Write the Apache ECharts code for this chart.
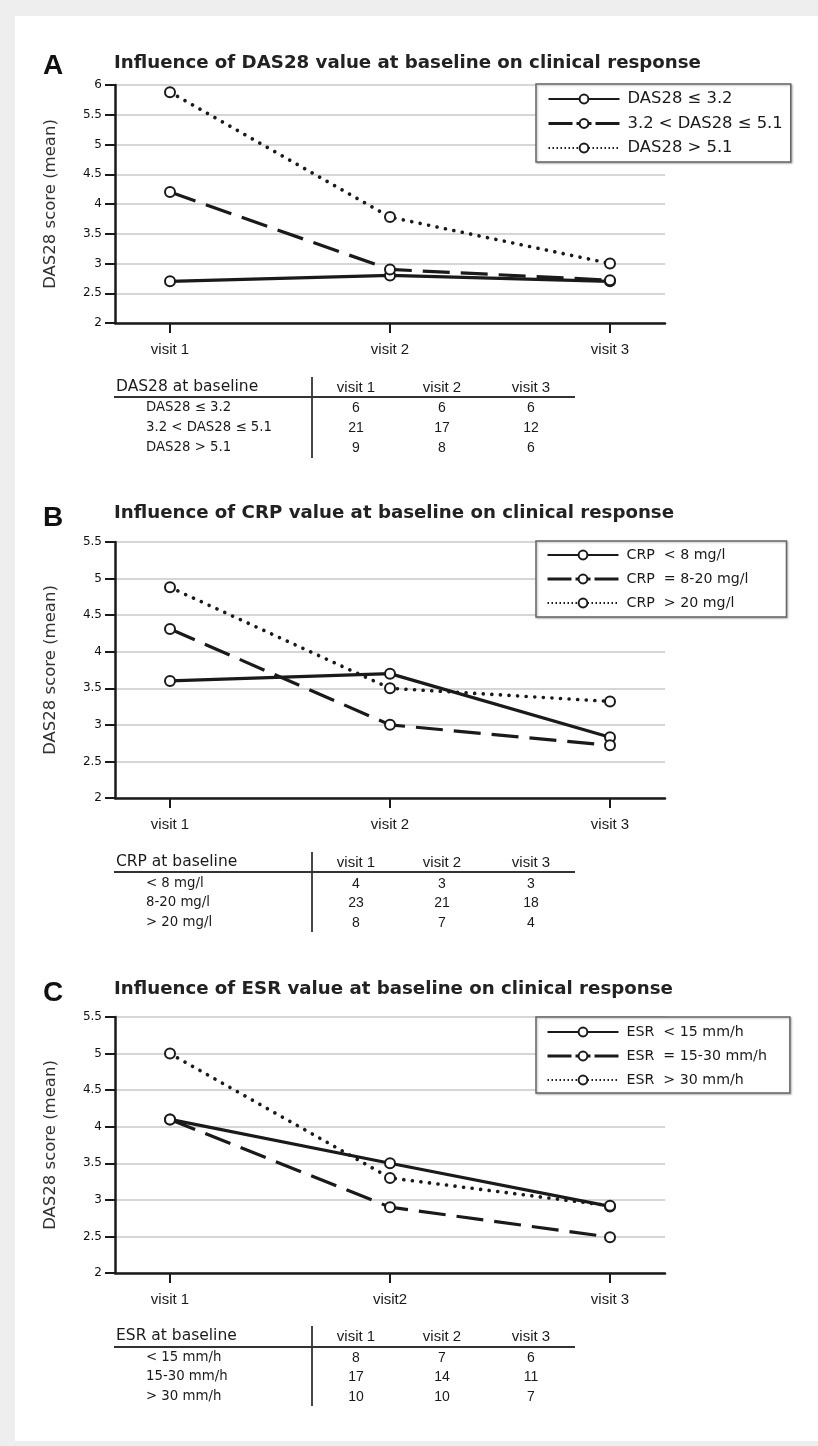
<!DOCTYPE html>
<html><head><meta charset="utf-8">
<script src="https://cdn.jsdelivr.net/npm/echarts@6/dist/echarts.min.js"></script>
<style>html,body{margin:0;padding:0;background:#fff}#c{width:818px;height:1446px}</style>
</head><body><div id="c"></div>
<script>
// ---------- data ----------
const visitsAB = ['visit 1', 'visit 2', 'visit 3'];
const visitsC = ['visit 1', 'visit2', 'visit 3'];
const tableCols = ['visit 1', 'visit 2', 'visit 3'];
const yName = 'DAS28 score (mean)';
const letters = ['A', 'B', 'C'];
const titles = [
  'Influence of DAS28 value at baseline on clinical response',
  'Influence of CRP value at baseline on clinical response',
  'Influence of ESR value at baseline on clinical response'
];
const yMaxes = [6, 5.5, 5.5];

const namesA = ['DAS28 \u2264 3.2', '3.2 < DAS28 \u2264 5.1', 'DAS28 > 5.1'];
const lowA = [2.7, 2.8, 2.7];
const midA = [4.2, 2.9, 2.72];
const highA = [5.88, 3.78, 3.0];
const tableTitleA = 'DAS28 at baseline';
const rowLabelsA = ['DAS28 \u2264 3.2', '3.2 < DAS28 \u2264 5.1', 'DAS28 > 5.1'];
const countsA = [[6, 6, 6], [21, 17, 12], [9, 8, 6]];

const namesB = ['CRP  < 8 mg/l', 'CRP  = 8-20 mg/l', 'CRP  > 20 mg/l'];
const lowB = [3.6, 3.7, 2.83];
const midB = [4.31, 3.0, 2.72];
const highB = [4.88, 3.5, 3.32];
const tableTitleB = 'CRP at baseline';
const rowLabelsB = ['< 8 mg/l', '8-20 mg/l', '> 20 mg/l'];
const countsB = [[4, 3, 3], [23, 21, 18], [8, 7, 4]];

const namesC = ['ESR  < 15 mm/h', 'ESR  = 15-30 mm/h', 'ESR  > 30 mm/h'];
const lowC = [4.1, 3.5, 2.91];
const midC = [4.1, 2.9, 2.49];
const highC = [5.0, 3.3, 2.92];
const tableTitleC = 'ESR at baseline';
const rowLabelsC = ['< 15 mm/h', '15-30 mm/h', '> 30 mm/h'];
const countsC = [[8, 7, 6], [17, 14, 11], [10, 10, 7]];

// ---------- layout (positions / styles only) ----------
const INK = '#1a1a1a';
const SANS = "'Liberation Sans',Arial,sans-serif";
const DJV = "'DejaVu Sans',sans-serif";
const panels = [
  {names: namesA, series: [lowA, midA, highA], visits: visitsAB, tTitle: tableTitleA, rowLabels: rowLabelsA, counts: countsA,
   letterY: 66, titleY: 63, top: 85, h: 238, legTop: 84, legPad: [6, 8, 5, 11], legGap: 6.5, legFont: 16.4,
   tHead: 387, tLine: 397, vTop: 377, vBot: 458, rows: [408, 428, 448]},
  {names: namesB, series: [lowB, midB, highB], visits: visitsAB, tTitle: tableTitleB, rowLabels: rowLabelsB, counts: countsB,
   letterY: 518, titleY: 513, top: 542, h: 256, legTop: 541, legPad: [5, 38, 5, 10], legGap: 6, legFont: 14.2,
   tHead: 862, tLine: 872, vTop: 852, vBot: 932, rows: [884, 903, 923]},
  {names: namesC, series: [lowC, midC, highC], visits: visitsC, tTitle: tableTitleC, rowLabels: rowLabelsC, counts: countsC,
   letterY: 993, titleY: 989, top: 1017, h: 256, legTop: 1017, legPad: [6, 23, 4, 10], legGap: 6, legFont: 14.2,
   tHead: 1336, tLine: 1347, vTop: 1326, vBot: 1406, rows: [1358, 1377, 1397]}
];
const colX = [356, 442, 531];

const title = [], grid = [], xAxis = [], yAxis = [], legend = [], series = [], graphic = [];

// grey frame of the original figure
graphic.push({type: 'rect', shape: {x: 0, y: 0, width: 818, height: 16}, style: {fill: '#eeeeee'}, silent: true});
graphic.push({type: 'rect', shape: {x: 0, y: 0, width: 15, height: 1446}, style: {fill: '#eeeeee'}, silent: true});
graphic.push({type: 'rect', shape: {x: 0, y: 1441, width: 818, height: 5}, style: {fill: '#eeeeee'}, silent: true});

panels.forEach((p, i) => {
  title.push({text: letters[i], left: 43, top: p.letterY - 14, padding: 0,
    textStyle: {fontSize: 28, fontWeight: 'bold', fontFamily: SANS, color: '#111', lineHeight: 28}});
  title.push({text: titles[i], left: 114, top: p.titleY - 9, padding: 0,
    textStyle: {fontSize: 18.2, fontWeight: 'bold', fontFamily: DJV, color: '#222', lineHeight: 18}});

  grid.push({left: 115, top: p.top, width: 550, height: p.h});

  const labels = p.visits;
  xAxis.push({
    type: 'value', gridIndex: i, min: 0.75, max: 3.25,
    axisLine: {show: true, lineStyle: {color: INK, width: 2.5}},
    axisTick: {show: true, customValues: [1, 2, 3], length: 10, lineStyle: {color: INK, width: 2}},
    axisLabel: {customValues: [1, 2, 3], margin: 19, fontFamily: SANS, fontSize: 15, color: '#1a1a1a',
      formatter: v => (Math.abs(v - Math.round(v)) < 1e-6 && labels[Math.round(v) - 1]) || ''},
    splitLine: {show: false}
  });
  yAxis.push({
    type: 'value', gridIndex: i, min: 2, max: yMaxes[i], interval: 0.5,
    name: yName, nameLocation: 'middle', nameGap: 56, nameRotate: 90,
    nameTextStyle: {fontFamily: DJV, fontSize: 16.5, color: '#333'},
    axisLine: {show: true, lineStyle: {color: INK, width: 2.5}},
    axisTick: {show: true, length: 10, lineStyle: {color: INK, width: 2}},
    axisLabel: {margin: 13, fontFamily: DJV, fontSize: 12, color: '#111'},
    splitLine: {show: true, lineStyle: {color: '#d6d6d6', width: 2}}
  });

  const kinds = ['solid', 'dash', 'dot'];
  p.series.forEach((vals, k) => {
    const ls = {color: INK, width: 3.2};
    if (kinds[k] === 'dash') ls.type = [27, 11];
    if (kinds[k] === 'dot') { ls.type = [0.1, 8.5]; ls.cap = 'round'; ls.width = 3.6; }
    series.push({
      type: 'line', name: p.names[k], xAxisIndex: i, yAxisIndex: i,
      data: vals.map((v, j) => [j + 1, v]),
      symbol: 'circle', symbolSize: 10, showAllSymbol: true,
      itemStyle: {color: '#fff', borderColor: INK, borderWidth: 2},
      lineStyle: ls, emphasis: {disabled: true}, animation: false
    });
  });

  legend.push({
    orient: 'vertical', left: 536, top: p.legTop,
    data: [{name: p.names[0]},
           {name: p.names[1], lineStyle: {type: [24, 4, 15, 4, 24], width: 3}},
           {name: p.names[2], lineStyle: {type: [1.5, 2.5], width: 2, cap: 'butt'}}],
    itemWidth: 71, itemHeight: 11, itemGap: p.legGap, padding: p.legPad,
    backgroundColor: '#fff', borderColor: '#666', borderWidth: 1.5,
    shadowColor: 'rgba(0,0,0,0.25)', shadowBlur: 2, shadowOffsetX: 1, shadowOffsetY: 1,
    textStyle: {fontFamily: DJV, fontSize: p.legFont, color: '#1a1a1a', lineHeight: 18, padding: [0, 0, 0, 3]},
    selectedMode: false
  });

  // table under the chart
  graphic.push({type: 'text', x: 116, y: p.tHead, silent: true,
    style: {text: p.tTitle, fill: '#1a1a1a', fontFamily: DJV, fontSize: 15.5, align: 'left', verticalAlign: 'middle'}});
  tableCols.forEach((c, j) => graphic.push({type: 'text', x: colX[j], y: p.tHead + 1, silent: true,
    style: {text: c, fill: '#1a1a1a', fontFamily: SANS, fontSize: 15, align: 'center', verticalAlign: 'middle'}}));
  graphic.push({type: 'line', silent: true, shape: {x1: 114, y1: p.tLine, x2: 575, y2: p.tLine}, style: {stroke: '#333', lineWidth: 2}});
  graphic.push({type: 'line', silent: true, shape: {x1: 312, y1: p.vTop, x2: 312, y2: p.vBot}, style: {stroke: '#333', lineWidth: 1.8}});
  p.rowLabels.forEach((r, k) => {
    graphic.push({type: 'text', x: 146, y: p.rows[k], silent: true,
      style: {text: r, fill: '#1a1a1a', fontFamily: DJV, fontSize: 13.3, align: 'left', verticalAlign: 'middle'}});
    p.counts[k].forEach((n, j) => graphic.push({type: 'text', x: colX[j], y: p.rows[k], silent: true,
      style: {text: String(n), fill: '#1a1a1a', fontFamily: SANS, fontSize: 14, align: 'center', verticalAlign: 'middle'}}));
  });
});

const chart = echarts.init(document.getElementById('c'), null, {renderer: 'canvas'});
chart.setOption({
  animation: false,
  backgroundColor: '#fff',
  title, grid, xAxis, yAxis, legend, series, graphic
});
</script>
</body></html>
